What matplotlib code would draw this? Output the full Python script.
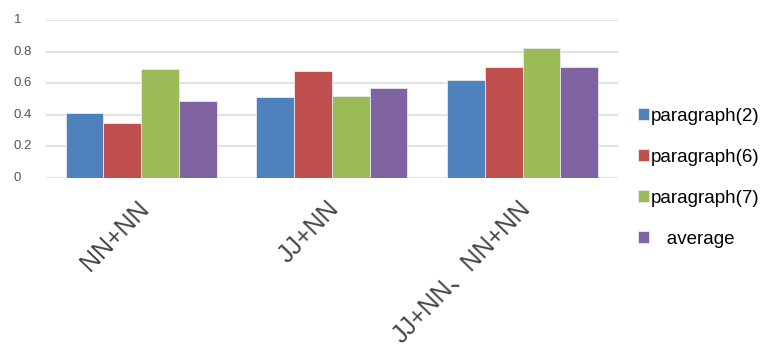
import matplotlib

matplotlib.use("Agg")
import matplotlib.pyplot as plt
import matplotlib.transforms as mtransforms
import numpy as np

plt.rcParams["font.family"] = ["Liberation Sans", "Noto Sans CJK SC"]

categories = ["NN+NN", "JJ+NN", "JJ+NN、NN+NN"]
series_names = ["paragraph(2)", "paragraph(6)", "paragraph(7)", "   average"]
para2 = [0.41, 0.51, 0.62]
para6 = [0.35, 0.68, 0.70]
para7 = [0.69, 0.52, 0.82]
average = [0.49, 0.57, 0.70]
yticks = [0, 0.2, 0.4, 0.6, 0.8, 1]
colors = ["#4F81BD", "#C0504D", "#9BBB59", "#8064A2"]

fig = plt.figure(figsize=(7.62, 3.51), dpi=100)
ax = fig.add_axes([0.060, 0.493, 0.751, 0.450])

x = np.arange(len(categories))
width = 0.198
handles = []
for i, (vals, c) in enumerate(zip([para2, para6, para7, average], colors)):
    h = ax.bar(x + (i - 1.5) * width, vals, width=width, color=c,
               edgecolor="#e8e8f0", linewidth=0.6, zorder=3)
    handles.append(h)

ax.set_xlim(-0.5, 2.5)
ax.set_ylim(0, 1)
ax.yaxis.grid(True, color="#e2e2e2", linewidth=1.5, zorder=0)
ax.tick_params(axis="y", length=0, labelleft=False)
ax.tick_params(axis="x", length=0, pad=13)
for s in ax.spines.values():
    s.set_visible(False)

# left-aligned value labels beside the grid
ax.set_yticks(yticks)
for t in yticks:
    ax.text(-0.056, t, f"{t:g}", transform=ax.get_yaxis_transform(),
            ha="left", va="center", color="#555555", fontsize=9.5)

ax.set_xticks(x)
ax.set_xticklabels(categories, rotation=46, ha="right", rotation_mode="anchor",
                   fontsize=18, color="#444444")
shift = mtransforms.ScaledTranslation(-5 / 100, 0, fig.dpi_scale_trans)
for lbl in ax.get_xticklabels():
    lbl.set_transform(lbl.get_transform() + shift)

fig.legend(handles, series_names, loc="center left",
           bbox_to_anchor=(0.825, 0.493), frameon=False, fontsize=13.5,
           handlelength=0.6, handleheight=0.6, handletextpad=0.1,
           labelspacing=1.28, borderpad=0)

fig.savefig("out.png", dpi=100)
